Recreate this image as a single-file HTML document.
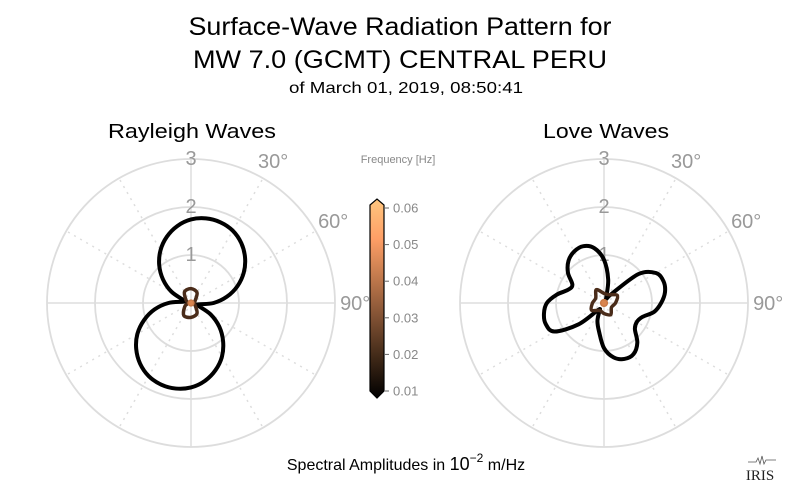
<!DOCTYPE html>
<html><head><meta charset="utf-8"><style>
html,body{margin:0;padding:0;background:#fff;}
svg{display:block;font-family:"Liberation Sans",sans-serif;}
</style></head><body>
<svg id="chart" width="800" height="493" viewBox="0 0 800 493">
<defs>
<linearGradient id="copper" x1="0" y1="1" x2="0" y2="0">
<stop offset="0" stop-color="#000000"/><stop offset="0.2" stop-color="#3f2817"/>
<stop offset="0.4" stop-color="#7f5033"/><stop offset="0.6" stop-color="#bf784c"/>
<stop offset="0.8" stop-color="#fe9f66"/><stop offset="1" stop-color="#ffc77f"/>
</linearGradient>
</defs>
<text x="400" y="35" font-size="25" text-anchor="middle" textLength="423" lengthAdjust="spacingAndGlyphs" fill="#000">Surface-Wave Radiation Pattern for</text>
<text x="400" y="68" font-size="25" text-anchor="middle" textLength="414" lengthAdjust="spacingAndGlyphs" fill="#000">MW 7.0 (GCMT) CENTRAL PERU</text>
<text x="406" y="93" font-size="16" text-anchor="middle" textLength="234" lengthAdjust="spacingAndGlyphs" fill="#000">of March 01, 2019, 08:50:41</text>
<text x="192" y="138" font-size="20" text-anchor="middle" textLength="168" lengthAdjust="spacingAndGlyphs" fill="#000">Rayleigh Waves</text>
<text x="606" y="138" font-size="20" text-anchor="middle" textLength="126" lengthAdjust="spacingAndGlyphs" fill="#000">Love Waves</text>
<g id="rayleigh"></g>
<g id="love"></g>
<g>
<text x="398" y="163" font-size="11" fill="#888" text-anchor="middle">Frequency [Hz]</text>
<path d="M370,205 L377,199 L384,205 L384,391 L377,398 L370,391 Z" fill="url(#copper)" stroke="#000" stroke-width="1.2"/>
<g id="cbticks"></g>
</g>
<text x="406" y="470" font-size="16" text-anchor="middle" fill="#000">Spectral Amplitudes in <tspan font-size="18">10</tspan><tspan font-size="12" dy="-8">−2</tspan><tspan dy="8"> m/Hz</tspan></text>
<g>
<path d="M748,462 h8 l2,-4 l2,6 l2,-8 l2,8 l2,-4 h10" fill="none" stroke="#555" stroke-width="0.8"/>
<text x="760" y="480" font-family="Liberation Serif,serif" font-size="15" text-anchor="middle" fill="#222">IRIS</text>
</g>
</svg>
<script>
// Azimuths (deg, clockwise from north) and amplitudes
const rayAz = [0,10,20,30,40,50,60,70,80,90,100,110,120,130,140,150,160,170,180,190,200,210,220,230,240,250,260,270,280,290,300,310,320,330,340,350];
const rayLow = [1.74,1.79,1.79,1.74,1.63,1.47,1.27,1.03,0.76,0.47,0.16,0.16,0.47,0.77,1.04,1.29,1.49,1.65,1.76,1.81,1.81,1.76,1.65,1.49,1.29,1.04,0.77,0.47,0.16,0.16,0.47,0.76,1.03,1.27,1.47,1.63];
const loveAz = rayAz;
const loveLow = [0.9,0.5,0.15,0.1,0.25,0.94,1.25,1.32,1.29,1.19,1.06,0.85,0.79,0.84,1.08,1.23,1.24,1.15,0.94,0.6,0.4,0.2,0.19,0.69,1.19,1.29,1.27,1.19,1.0,0.8,0.76,0.98,1.15,1.24,1.26,1.16];
const innerAz = [0,30,60,90,120,150,180,210,240,270,300,330];
const rayMid = [0.3,0.25,0.1,0.06,0.1,0.25,0.3,0.3,0.15,0.06,0.12,0.27];
const loveMid = [0.2,0.2,0.32,0.24,0.18,0.28,0.22,0.18,0.3,0.24,0.2,0.32];
const rayHigh = [0.06,0.06,0.06,0.06,0.06,0.06,0.06,0.06,0.06,0.06,0.06,0.06];
const loveHigh = [0.07,0.07,0.07,0.07,0.07,0.07,0.07,0.07,0.07,0.07,0.07,0.07];
const rTicks = [1,2,3];
const angTicks = [30,60,90];
const cbTicks = [0.01,0.02,0.03,0.04,0.05,0.06];

const NS='http://www.w3.org/2000/svg';
const PX=48;
function mk(tag,attrs,parent){const e=document.createElementNS(NS,tag);for(const k in attrs)e.setAttribute(k,attrs[k]);parent.appendChild(e);return e;}
function pt(cx,cy,az,r){const a=az*Math.PI/180;return [cx+r*PX*Math.sin(a),cy-r*PX*Math.cos(a)];}
function curve(cx,cy,az,vals){
  const p=az.map((a,i)=>pt(cx,cy,a,vals[i]));const n=p.length;let d='M'+p[0][0].toFixed(2)+','+p[0][1].toFixed(2);
  for(let i=0;i<n;i++){const p0=p[(i-1+n)%n],p1=p[i],p2=p[(i+1)%n],p3=p[(i+2)%n];
    const c1=[p1[0]+(p2[0]-p0[0])/6,p1[1]+(p2[1]-p0[1])/6],c2=[p2[0]-(p3[0]-p1[0])/6,p2[1]-(p3[1]-p1[1])/6];
    d+=' C'+c1.map(v=>v.toFixed(2))+' '+c2.map(v=>v.toFixed(2))+' '+p2.map(v=>v.toFixed(2));}
  return d+'Z';}
function polar(g,cx,cy,low,mid,high,az){
  for(let a=0;a<360;a+=30){const [x,y]=pt(cx,cy,a,3);
    const l=mk('line',{x1:cx,y1:cy,x2:x.toFixed(1),y2:y.toFixed(1),stroke:'#ddd','stroke-width':1.5,'stroke-dasharray':a%90?'2,5':'none'},g);
    
    }
  rTicks.forEach(r=>{const c=mk('circle',{cx:cx,cy:cy,r:r*PX,fill:'none',stroke:'#ddd','stroke-width':1.8},g);
    
    });
  rTicks.forEach(r=>{const t=mk('text',{x:cx,y:cy-r*PX+6,'font-size':20,fill:'#999','text-anchor':'middle'},g);t.textContent=r;
    
    });
  angTicks.forEach(a=>{const [x,y]=pt(cx,cy,a,3.42);const t=mk('text',{x:x.toFixed(1),y:(y+7).toFixed(1),'font-size':20,fill:'#999','text-anchor':'middle'},g);t.textContent=a+'°';
    
    });
  const p1=mk('path',{d:curve(cx,cy,az,low),fill:'none',stroke:'#000','stroke-width':4,'stroke-linejoin':'round'},g);
  
  
  const p2=mk('path',{d:curve(cx,cy,innerAz,mid),fill:'none',stroke:'#4a2c1a','stroke-width':3.5,'stroke-linejoin':'round'},g);
  
  
  const p3=mk('path',{d:curve(cx,cy,innerAz,high),fill:'#d9854f',stroke:'#c97a48','stroke-width':1.5},g);
  
  
}
polar(document.getElementById('rayleigh'),191,303,rayLow,rayMid,rayHigh,rayAz);
polar(document.getElementById('love'),604,303,loveLow,loveMid,loveHigh,loveAz);
const cb=document.getElementById('cbticks');
cbTicks.forEach(v=>{const y=391-(v-0.01)/0.05*183;
  const l=mk('line',{x1:384,x2:389,y1:y,y2:y,stroke:'#666','stroke-width':1},cb);
  
  
  const t=mk('text',{x:393,y:y+4.5,'font-size':13,fill:'#888'},cb);t.textContent=v.toFixed(2);
  
  });
</script>
</body></html>
